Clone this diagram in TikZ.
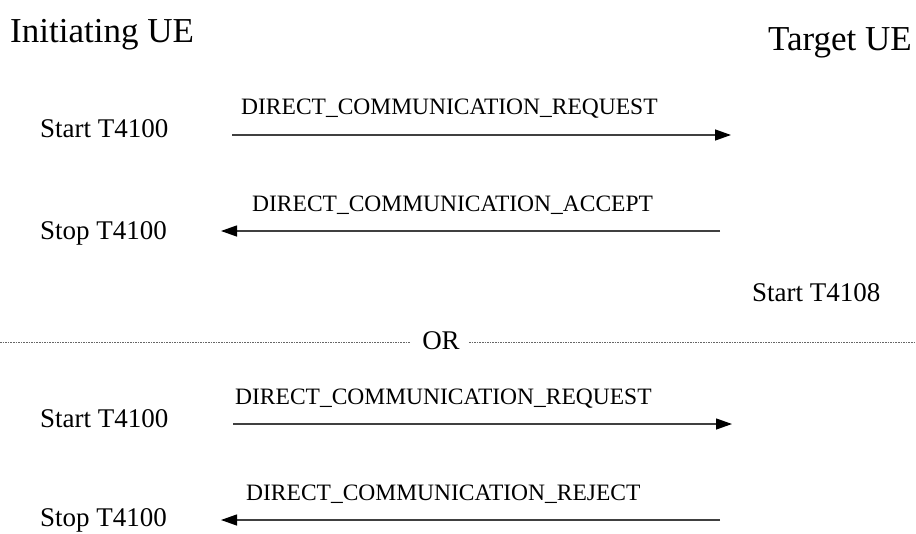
\documentclass[tikz,border=0pt]{standalone}
\usepackage{fontspec}
\setmainfont{Liberation Serif}
\usetikzlibrary{arrows.meta}

\tikzset{
  ue/.style={inner sep=0pt, font=\fontsize{35}{40}\selectfont},
  timer/.style={inner sep=0pt, anchor=base west, font=\fontsize{27}{32}\selectfont},
  msg/.style={inner sep=0pt, anchor=base west, font=\fontsize{23.5}{28}\selectfont},
  msgarrow/.style={draw=black!75, line width=1.3pt, -{Triangle[length=16pt,width=11pt,color=black]}},
  orline/.style={draw=black!60, line width=0.9pt, dash pattern=on 1.6pt off 1pt}
}

\begin{document}
\begin{tikzpicture}[x=1pt, y=-1pt]
\useasboundingbox (0,0) rectangle (916,533);
\node[ue, anchor=base west] (init) at (10,42) {Initiating UE};
\node[ue, anchor=base east] (target) at (912,50) {Target UE};
% first exchange
\node[timer] (start1) at (40,137) {Start T4100};
\node[msg] (req1) at (241,114) {DIRECT\_COMMUNICATION\_REQUEST};
\coordinate (req1a) at (232,135);
\coordinate (req1b) at (731,135);
\draw[msgarrow] (req1a) to (req1b);
\node[timer] (stop1) at (40,239) {Stop T4100};
\node[msg] (acc) at (252,211) {DIRECT\_COMMUNICATION\_ACCEPT};
\coordinate (acca) at (720,231);
\coordinate (accb) at (221,231);
\draw[msgarrow] (acca) to (accb);
\node[timer] (start8) at (752,301) {Start T4108};
% alternative
\node[timer, anchor=center] (or) at (441,341) {OR};
\coordinate (orl) at (0,342);
\coordinate (orr) at (916,342);
\draw[orline] (orl) to ([xshift=-12pt]or.west |- orl);
\draw[orline] ([xshift=9pt]or.east |- orr) to (orr);
% second exchange
\node[timer] (start2) at (40,427) {Start T4100};
\node[msg] (req2) at (235,404) {DIRECT\_COMMUNICATION\_REQUEST};
\coordinate (req2a) at (233,424);
\coordinate (req2b) at (732,424);
\draw[msgarrow] (req2a) to (req2b);
\node[timer] (stop2) at (40,526) {Stop T4100};
\node[msg] (rej) at (246,500) {DIRECT\_COMMUNICATION\_REJECT};
\coordinate (reja) at (720,520);
\coordinate (rejb) at (221,520);
\draw[msgarrow] (reja) to (rejb);
\end{tikzpicture}
\end{document}
